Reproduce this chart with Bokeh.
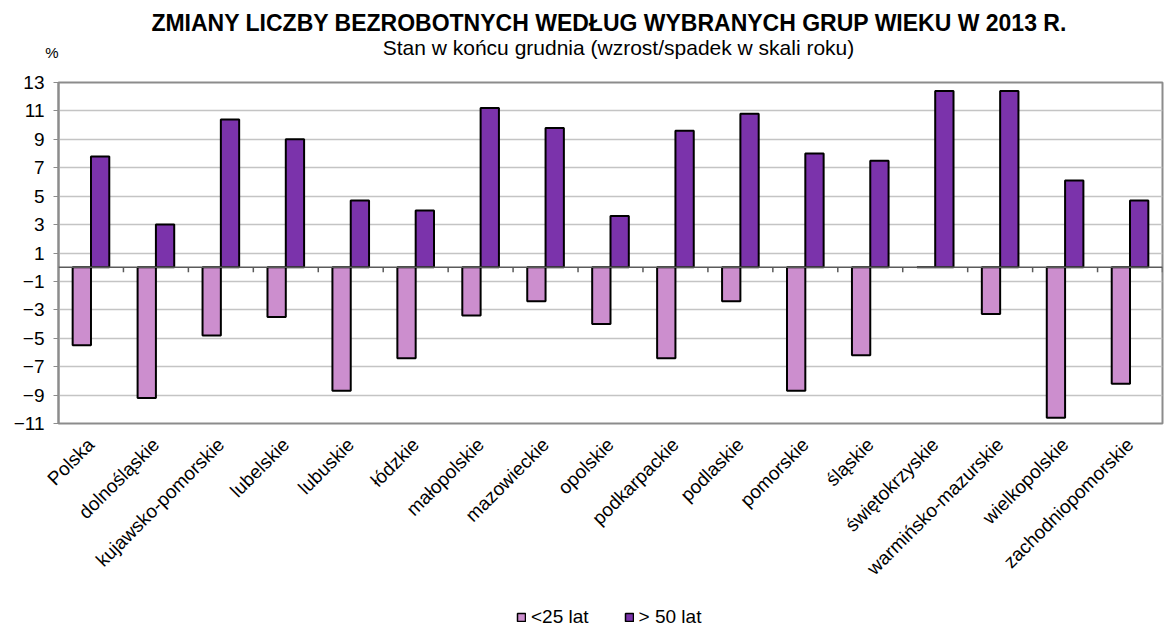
from bokeh.plotting import figure
from bokeh.layouts import column
from bokeh.models import (FactorRange, Range1d, FixedTicker, Label, Span,
                          Legend, LegendItem, ColumnDataSource)
from bokeh.transform import dodge
from bokeh.embed import file_html
from bokeh.resources import INLINE
import math

regions = ["Polska", "dolnośląskie", "kujawsko-pomorskie", "lubelskie", "lubuskie",
           "łódzkie", "małopolskie", "mazowieckie", "opolskie", "podkarpackie",
           "podlaskie", "pomorskie", "śląskie", "świętokrzyskie",
           "warmińsko-mazurskie", "wielkopolskie", "zachodniopomorskie"]
under25 = [-5.5, -9.2, -4.8, -3.5, -8.7, -6.4, -3.4, -2.4, -4.0, -6.4, -2.4, -8.7,
           -6.2, 0.0, -3.3, -10.6, -8.2]
over50 = [7.8, 3.0, 10.4, 9.0, 4.7, 4.0, 11.2, 9.8, 3.6, 9.6, 10.8, 8.0, 7.5, 12.4,
          12.4, 6.1, 4.7]
series_names = ["<25 lat", "> 50 lat"]
y_ticks = [-11, -9, -7, -5, -3, -1, 1, 3, 5, 7, 9, 11, 13]
grid_ticks = [-9, -7, -5, -3, -1, 1, 3, 5, 7, 9, 11]

title_text = "ZMIANY LICZBY BEZROBOTNYCH WEDŁUG WYBRANYCH GRUP WIEKU W 2013 R."
subtitle_text = "Stan w końcu grudnia (wzrost/spadek w skali roku)"
unit_text = "%"

FONT = "Liberation Sans"
C_LIGHT = "#CC8ECE"
C_DARK = "#7B33AB"
AXIS_GRAY = "#8c8c8c"
W = 1164
FRAME_L, FRAME_R = 58, 1162

src = ColumnDataSource(dict(region=regions, u25=under25, o50=over50))

# ---------- heading strip (frame is aligned with the chart frame) ----------
TOP_H = 70
UNIT_Y = 52
t = figure(width=W, height=TOP_H, x_range=Range1d(FRAME_L, FRAME_R),
           y_range=Range1d(TOP_H, 0), x_axis_type=None,
           output_backend="svg", toolbar_location=None, min_border=0,
           min_border_left=FRAME_L, min_border_right=W - FRAME_R)
t.outline_line_color = None
t.ygrid.visible = False
# the "%" unit sits left of the frame: draw it as the only label of a bare axis
t.yaxis.ticker = FixedTicker(ticks=[UNIT_Y])
t.yaxis.major_label_overrides = {UNIT_Y: unit_text}
t.yaxis.axis_line_color = None
t.yaxis.major_tick_line_color = None
t.yaxis.minor_tick_line_color = None
t.yaxis.major_tick_out = 0
t.yaxis.major_label_standoff = 0
t.yaxis.major_label_text_font = FONT
t.yaxis.major_label_text_font_size = "15px"
t.yaxis.major_label_text_color = "black"
t.add_layout(Label(x=609, y=22, text=title_text, text_font=FONT, text_font_size="23px",
                   text_font_style="bold", text_align="center", text_baseline="middle",
                   text_color="black"))
t.add_layout(Label(x=618, y=47, text=subtitle_text, text_font=FONT,
                   text_font_size="21px", text_align="center", text_baseline="middle",
                   text_color="black"))

# ---------- main chart ----------
MAIN_H = 534
p = figure(width=W, height=MAIN_H, x_range=FactorRange(*regions),
           y_range=Range1d(-11, 13), output_backend="svg", toolbar_location=None,
           min_border_left=FRAME_L, min_border_right=W - FRAME_R,
           min_border_top=82 - TOP_H, min_border_bottom=MAIN_H - (423 - TOP_H))

r1 = p.vbar(x=dodge("region", -0.141, range=p.x_range), top="u25", bottom=0, width=0.282,
            fill_color=C_LIGHT, line_color="black", line_width=2, source=src)
r2 = p.vbar(x=dodge("region", 0.141, range=p.x_range), top="o50", bottom=0, width=0.282,
            fill_color=C_DARK, line_color="black", line_width=2, source=src)

# zero line with small ticks between categories
p.add_layout(Span(location=0, dimension="width", line_color="#5a5a5a", line_width=1.5))
tick_len = 5 * 24 / 341.0
p.segment(x0=dodge("region", 0.5, range=p.x_range), y0=0,
          x1=dodge("region", 0.5, range=p.x_range), y1=-tick_len,
          line_color="#5a5a5a", line_width=1.5, source=src)

p.yaxis.ticker = FixedTicker(ticks=y_ticks)
p.yaxis.major_label_text_font = FONT
p.yaxis.major_label_text_font_size = "19px"
p.yaxis.major_label_text_color = "black"
p.yaxis.major_tick_out = 5
p.yaxis.major_tick_in = 0
p.yaxis.minor_tick_line_color = None
p.yaxis.axis_line_color = AXIS_GRAY
p.yaxis.axis_line_width = 2
p.yaxis.major_tick_line_color = AXIS_GRAY
p.yaxis.major_label_standoff = 9

p.ygrid.ticker = FixedTicker(ticks=grid_ticks)
p.ygrid.grid_line_color = "#c4c4c4"
p.ygrid.grid_line_width = 1.5
p.xgrid.visible = False

p.xaxis.axis_line_color = None
p.xaxis.major_tick_line_color = None
p.xaxis.major_label_orientation = math.pi / 4
p.xaxis.major_label_text_font = FONT
p.xaxis.major_label_text_font_size = "19px"
p.xaxis.major_label_text_color = "black"
p.xaxis.major_label_standoff = 12

p.outline_line_color = AXIS_GRAY
p.outline_line_width = 2

# ---------- legend strip (hidden helper renderers provide only the swatches) ----------
LEG_H = 24
lg = figure(width=W, height=LEG_H, x_range=FactorRange(*regions), y_range=Range1d(100, 101),
            x_axis_type=None, y_axis_type=None, output_backend="svg",
            toolbar_location=None, min_border=0,
            min_border_left=FRAME_L, min_border_right=W - FRAME_R)
lg.outline_line_color = None
l1 = lg.vbar(x="region", top="u25", bottom=0, width=0.3, fill_color=C_LIGHT,
             line_color="black", line_width=1.5, source=src)
l2 = lg.vbar(x="region", top="o50", bottom=0, width=0.3, fill_color=C_DARK,
             line_color="black", line_width=1.5, source=src)
l1.visible = False
l2.visible = False
legend = Legend(items=[LegendItem(label=series_names[0], renderers=[l1]),
                       LegendItem(label=series_names[1], renderers=[l2])],
                orientation="horizontal", location=(516 - FRAME_L, 0),
                label_text_font=FONT, label_text_font_size="19px", label_text_color="black",
                glyph_width=10, glyph_height=10, spacing=35, label_standoff=5,
                inactive_fill_alpha=0,
                border_line_color=None, background_fill_alpha=0, margin=0, padding=0)
lg.add_layout(legend)

layout = column(t, p, lg, spacing=0)
open("out.html", "w").write(file_html(layout, INLINE))
